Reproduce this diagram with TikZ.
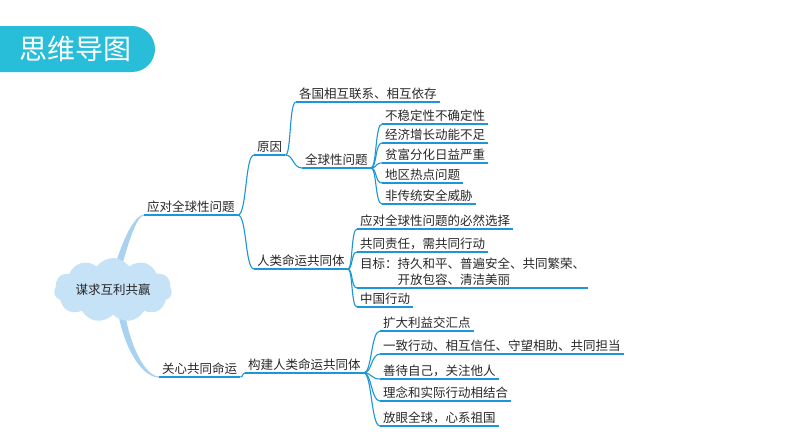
\documentclass[tikz,border=0pt]{standalone}
\usepackage{fontspec}
\newfontfamily\cjk{Noto Sans CJK SC}
\usetikzlibrary{shapes.symbols,calc,backgrounds}
\definecolor{lineblue}{RGB}{28,150,214}
\definecolor{cloudfill}{RGB}{198,226,246}
\definecolor{branchfill}{RGB}{168,210,240}
\definecolor{titlecyan}{RGB}{40,189,217}
\definecolor{txt}{RGB}{40,40,40}
\begin{document}
\begin{tikzpicture}[x=1pt,y=-1pt,
  item/.style={anchor=south west, inner xsep=3pt, inner ysep=3.5pt, text depth=0pt,
    font=\cjk\fontsize{12.5}{16}\selectfont, text=txt},
  uline/.style={draw=lineblue, line width=1.1pt},
  conn/.style={draw=lineblue, line width=1.1pt},
  rootcloud/.style={cloud, cloud puffs=11, cloud puff arc=110, aspect=2.1,
    fill=cloudfill, minimum width=118pt, minimum height=58pt, inner sep=0pt,
    font=\cjk\fontsize{12.5}{15}\selectfont, text=txt},
  titletext/.style={font=\cjk\fontsize{28}{30}\selectfont, text=white}
]
\useasboundingbox (0,0) rectangle (794,447);

% title banner
\fill[titlecyan, rounded corners=23pt] (-40,26) rectangle (155,72);
\node[titletext] (title) at (75,49) {思维导图};

% root
\node[rootcloud] (root) at (113,290) {谋求互利共赢};

% level 1
\node[item] (A) at (144,215) {应对全球性问题};
\node[item] (B) at (159,377) {关心共同命运};

% level 2
\node[item] (A1) at (254,155) {原因};
\node[item] (A1a) at (296,102) {各国相互联系、相互依存};
\node[item] (A1b) at (302,168) {全球性问题};
\node[item] (A2) at (254,269) {人类命运共同体};
\node[item] (B1) at (245,373) {构建人类命运共同体};

% children of 全球性问题
\node[item] (g1) at (382,124) {不稳定性不确定性};
\node[item] (g2) at (382,143) {经济增长动能不足};
\node[item] (g3) at (382,163) {贫富分化日益严重};
\node[item] (g4) at (382,183) {地区热点问题};
\node[item] (g5) at (382,204) {非传统安全威胁};

% children of 人类命运共同体
\node[item] (h1) at (357,229) {应对全球性问题的必然选择};
\node[item] (h2) at (357,252) {共同责任，需共同行动};
\node[item, align=left] (h3) at (357,288) {目标：持久和平、普遍安全、共同繁荣、\\\hspace*{3em}开放包容、清洁美丽};
\node[item] (h4) at (357,307) {中国行动};

% children of 构建人类命运共同体
\node[item] (k1) at (380,331) {扩大利益交汇点};
\node[item] (k2) at (380,354) {一致行动、相互信任、守望相助、共同担当};
\node[item] (k3) at (380,379) {善待自己，关注他人};
\node[item] (k4) at (380,401) {理念和实际行动相结合};
\node[item] (k5) at (380,426) {放眼全球，心系祖国};

% underlines
\foreach \n in {A,B,A1,A1a,A1b,A2,B1,g1,g2,g3,g4,g5,h1,h2,h3,h4,k1,k2,k3,k4,k5}
  \draw[uline] (\n.south west) -- (\n.south east);

% connectors
\draw[conn] (A.south east) .. controls +(9,0) and +(-9,0) .. (A1.south west);
\draw[conn] (A.south east) .. controls +(9,0) and +(-9,0) .. (A2.south west);
\draw[conn] (A1.south east) .. controls +(6,0) and +(-7,0) .. (A1a.south west);
\draw[conn] (A1.south east) .. controls +(8,0) and +(-9,0) .. (A1b.south west);
\foreach \c in {g1,g2,g3,g4,g5}
  \draw[conn] (A1b.south east) .. controls +(6,0) and +(-7,0) .. (\c.south west);
\foreach \c in {h1,h2,h3,h4}
  \draw[conn] (A2.south east) .. controls +(5,0) and +(-6,0) .. (\c.south west);
\draw[conn] (B.south east) .. controls +(3,0) and +(-3,0) .. (B1.south west);
\foreach \c in {k1,k2,k3,k4,k5}
  \draw[conn] (B1.south east) .. controls +(8,0) and +(-9,0) .. (\c.south west);

% tapered branches from the cloud (behind the cloud)
\begin{pgfonlayer}{background}
\fill[white] (0,0) rectangle (794,447);
\fill[branchfill] ($(root.north)+(2,8)$) .. controls ($(root.north)+(12,-25)$) and ($(A.south west)+(-8,0)$) .. ($(A.south west)+(0,-0.5)$)
  -- ($(A.south west)+(0,0.7)$) .. controls ($(A.south west)+(-6,0.7)$) and ($(root.north)+(18,-25)$) .. ($(root.north)+(9,8)$) -- cycle;
\fill[branchfill] ($(root.south)+(4,-8)$) .. controls ($(root.south)+(10,32)$) and ($(B.south west)+(-18,0)$) .. ($(B.south west)+(0,0.6)$)
  -- ($(B.south west)+(0,-0.6)$) .. controls ($(B.south west)+(-14,-0.6)$) and ($(root.south)+(16,30)$) .. ($(root.south)+(11,-8)$) -- cycle;
\end{pgfonlayer}
\end{tikzpicture}
\end{document}
